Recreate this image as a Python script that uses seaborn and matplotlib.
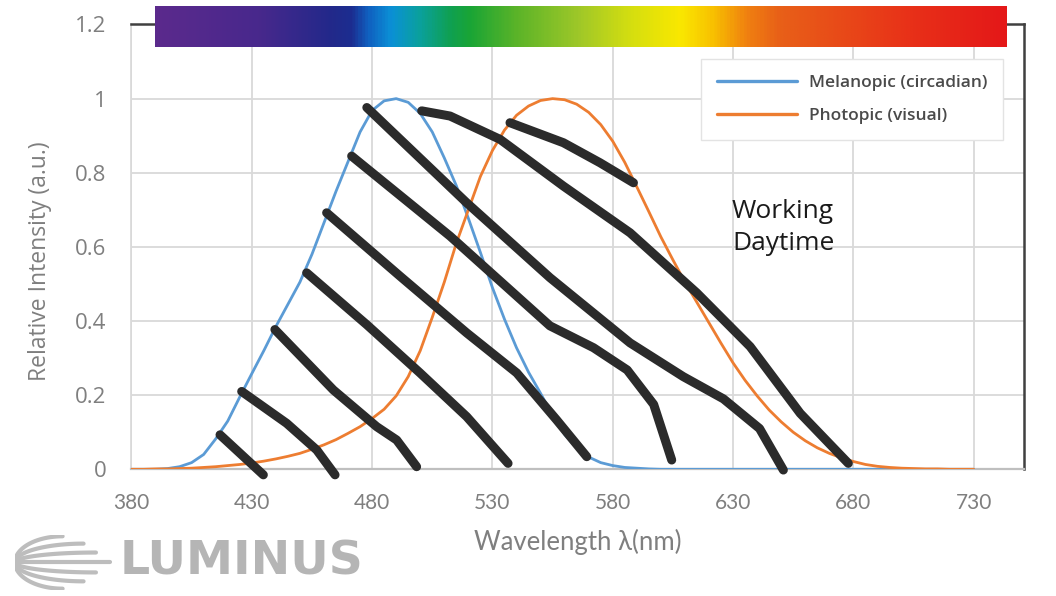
import numpy as np
import pandas as pd
import seaborn as sns
import matplotlib.pyplot as plt
from matplotlib.colors import LinearSegmentedColormap

sns.set_theme(style="whitegrid")
plt.rcParams["font.family"] = ["Open Sans", "DejaVu Sans"]

# curve data (5 nm steps)
wavelength = list(range(380, 735, 5))
melanopic = [0.0, 0.0, 0.0, 0.002, 0.007, 0.018, 0.04, 0.082, 0.13, 0.195,
             0.258, 0.32, 0.385, 0.445, 0.505, 0.58, 0.665, 0.75, 0.83, 0.91,
             0.968, 0.994, 1.0, 0.99, 0.96, 0.91, 0.84, 0.765, 0.677, 0.585,
             0.49, 0.405, 0.328, 0.262, 0.205, 0.145, 0.094, 0.058, 0.033, 0.018,
             0.01, 0.005, 0.003, 0.001, 0.0] + [0.0] * 26
photopic = [0.0, 0.0, 0.001, 0.001, 0.002, 0.003, 0.005, 0.007, 0.01, 0.013,
            0.017, 0.022, 0.028, 0.035, 0.043, 0.054, 0.066, 0.08, 0.097, 0.115,
            0.137, 0.162, 0.198, 0.25, 0.32, 0.41, 0.505, 0.61, 0.70, 0.79,
            0.86, 0.915, 0.955, 0.98, 0.995, 1.0, 0.997, 0.985, 0.963, 0.93,
            0.885, 0.828, 0.762, 0.695, 0.627, 0.565, 0.505, 0.45, 0.395, 0.34,
            0.287, 0.24, 0.198, 0.16, 0.128, 0.1, 0.077, 0.058, 0.043, 0.031,
            0.021, 0.013, 0.008, 0.005, 0.003, 0.002, 0.001, 0.001, 0.0, 0.0,
            0.0]
curve_labels = ["Melanopic (circadian)", "Photopic (visual)"]
curve_colors = ["#5B9BD5", "#ED7D31"]

# hand-drawn hatch strokes (wavelength, intensity)
stroke_x = [
    [416.8, 434.8],
    [425.8, 444.5, 457.0, 464.6],
    [439.6, 463.9, 481.9, 490.2, 498.5],
    [452.8, 477.8, 499.9, 519.3, 536.5],
    [461.1, 491.6, 519.3, 540.1, 556.7, 569.2],
    [471.5, 512.4, 553.9, 572.0, 586.0, 597.0, 604.5],
    [477.8, 519.3, 553.9, 587.2, 609.3, 626.0, 641.0, 650.9],
    [500.6, 512.4, 533.2, 559.5, 587.2, 614.9, 637.1, 657.9, 677.9],
    [537.3, 559.5, 574.7, 588.6],
]
stroke_y = [
    [0.093, -0.015],
    [0.210, 0.124, 0.052, -0.015],
    [0.377, 0.214, 0.115, 0.079, 0.007],
    [0.530, 0.390, 0.260, 0.142, 0.016],
    [0.692, 0.521, 0.368, 0.260, 0.133, 0.034],
    [0.845, 0.629, 0.387, 0.328, 0.268, 0.175, 0.025],
    [0.976, 0.719, 0.517, 0.341, 0.250, 0.190, 0.110, -0.002],
    [0.967, 0.953, 0.890, 0.764, 0.638, 0.476, 0.331, 0.151, 0.016],
    [0.935, 0.881, 0.827, 0.773],
]

# spectrum bar colours (position along bar, colour)
spectrum_stops = [0.0, 0.12, 0.206, 0.229, 0.249, 0.276, 0.308, 0.347, 0.37,
                  0.425, 0.499, 0.558, 0.617, 0.656, 0.696, 0.734, 0.813, 0.891, 1.0]
spectrum_colors = ["#5b2a8c", "#48288c", "#22298a", "#1c2d90", "#1060c0", "#0b90d6",
                   "#0aa0a0", "#10a050", "#1aa535", "#5cb428", "#a0c828", "#d4de10",
                   "#fae800", "#f8c000", "#f08010", "#e86018", "#e84818", "#e83018",
                   "#e41818"]

n = len(wavelength)
df = pd.DataFrame({
    "Wavelength": wavelength * 2,
    "Intensity": melanopic + photopic,
    "Curve": [curve_labels[0]] * n + [curve_labels[1]] * n,
})

fig, ax = plt.subplots(figsize=(10.56, 5.96), dpi=100)
fig.subplots_adjust(left=0.1245, right=0.9697, bottom=0.2126, top=0.9589)

sns.lineplot(data=df, x="Wavelength", y="Intensity", hue="Curve",
             palette=dict(zip(curve_labels, curve_colors)), linewidth=2.0,
             ax=ax, legend=False, zorder=3)

for xs, ys in zip(stroke_x, stroke_y):
    ax.plot(xs, ys, color="#2b2b2b", lw=6.5, solid_capstyle="round",
            solid_joinstyle="round", clip_on=False, zorder=5)

# spectrum bar on top
cmap = LinearSegmentedColormap.from_list("spec", list(zip(spectrum_stops, spectrum_colors)))
grad = np.linspace(0, 1, 600).reshape(1, -1)
im = ax.imshow(grad, extent=[389.8, 743.5, 1.1405, 1.2487], aspect="auto",
               cmap=cmap, zorder=6)
im.set_clip_on(False)

ax.set_xlim(380, 750.9)
ax.set_ylim(0, 1.2)
ax.set_xticks(range(380, 731, 50))
ax.set_yticks([0, 0.2, 0.4, 0.6, 0.8, 1.0, 1.2])
ax.set_yticklabels(["0", "0.2", "0.4", "0.6", "0.8", "1", "1.2"])
ax.grid(True, color="#d9d9d9", lw=1.3)
ax.tick_params(axis="y", length=0, pad=18, labelsize=16, labelcolor="#7f7f7f")
ax.tick_params(axis="x", length=0, pad=17, labelsize=15, labelcolor="#7f7f7f")
for lbl in ax.get_xticklabels():
    lbl.set_family(["Lato", "DejaVu Sans"])

ax.spines["left"].set_color("#d9d9d9")
ax.spines["bottom"].set_color("#bfbfbf")
ax.spines["bottom"].set_linewidth(1.6)
for s in ("top", "right"):
    ax.spines[s].set_color("#404040")
    ax.spines[s].set_linewidth(1.8)

ax.set_ylabel("Relative Intensity (a.u.)", fontsize=16.5, color="#7f7f7f")
ax.yaxis.set_label_coords(-0.089, 0.467)
ax.set_xlabel("Wavelength λ(nm)", fontsize=18.5, color="#7f7f7f",
              family=["Lato", "DejaVu Sans"])
ax.xaxis.set_label_coords(0.5, -0.135)

handles = [plt.Line2D([], [], color=c, lw=2.4) for c in curve_colors]
leg = ax.legend(handles, curve_labels, loc="upper right", bbox_to_anchor=(0.986, 0.942),
                prop={"size": 12.5, "weight": "semibold"}, handlelength=4.6,
                handletextpad=0.7, labelspacing=1.0, borderpad=0.9, frameon=True,
                fancybox=False, framealpha=1, edgecolor="#e3e3e3")
for t in leg.get_texts():
    t.set_color("#4a4a4a")

ax.text(629.6, 0.652, "Working\nDaytime", fontsize=19, color="#1a1a1a",
        ha="left", va="center", linespacing=1.4)

# logo
fig.text(0.113, 0.057, "LUMINUS", fontsize=34, fontweight="bold", color="#b5b5b5",
         family="DejaVu Sans", ha="left", va="center")
lax = fig.add_axes([0.0142, 0.0101, 0.0947, 0.0923])
lax.set_axis_off()
lax.set_xlim(0, 1.05)
lax.set_ylim(-1.05, 1.05)
phi = np.linspace(0, np.pi / 2, 60)
for h, xe in [(1.0, 0.5), (0.72, 0.72), (0.38, 0.85), (0.0, 1.0),
              (-0.38, 0.85), (-0.72, 0.72), (-1.0, 0.5)]:
    lax.plot(xe * (1 - np.cos(phi)), h * np.sin(phi), color="#bdbdbd", lw=3,
             solid_capstyle="round")

fig.savefig("out.png", dpi=100)
